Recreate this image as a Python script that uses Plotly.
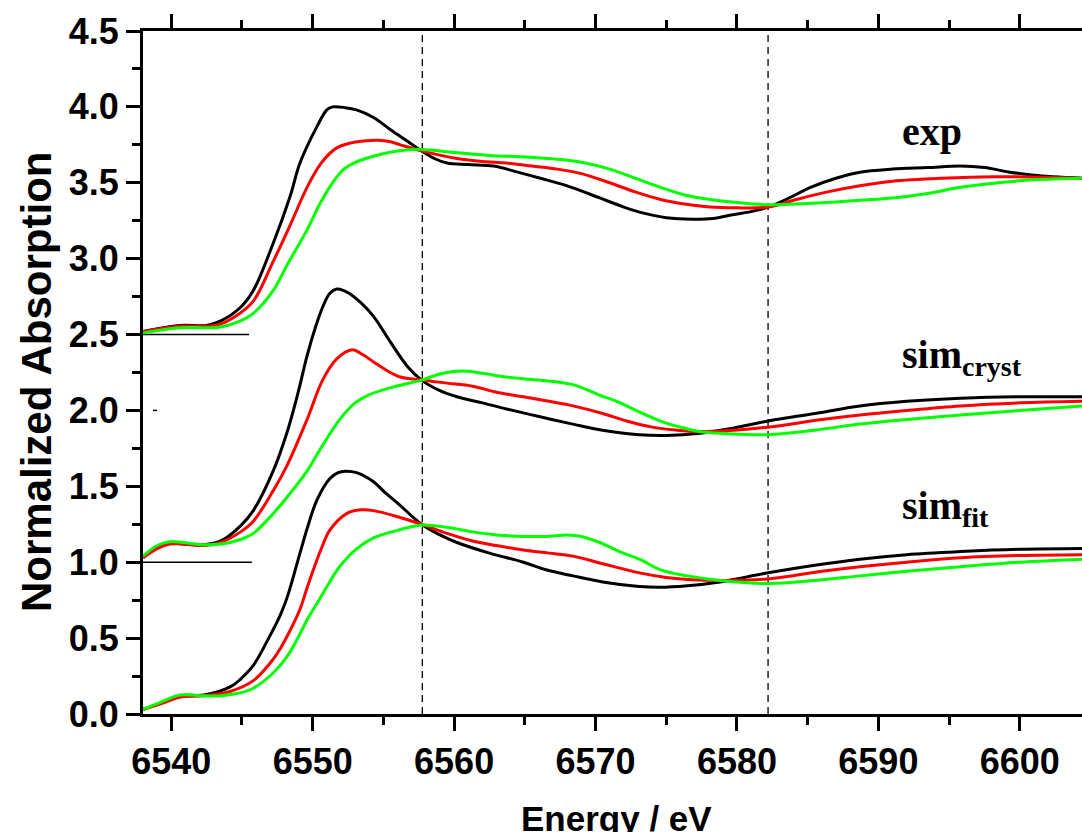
import plotly.graph_objects as go

# ---------------- data ----------------
exp_black_E = [6538.0, 6540.6, 6542.5, 6543.5, 6544.9, 6545.8, 6547.2, 6548.4, 6549.1, 6550.3, 6551.0, 6551.4, 6552.3, 6553.1, 6554.3, 6555.5, 6556.6, 6557.7, 6558.6, 6559.5, 6561.0, 6562.8, 6564.5, 6566.1, 6568.0, 6570.3, 6572.0, 6573.4, 6575.0, 6576.9, 6578.3, 6579.7, 6581.0, 6582.2, 6583.7, 6585.2, 6587.0, 6588.7, 6591.0, 6593.5, 6595.8, 6597.5, 6599.3, 6601.0, 6604.4]
exp_black_A = [2.52, 2.56, 2.56, 2.59, 2.68, 2.79, 3.10, 3.41, 3.63, 3.87, 3.98, 4.00, 3.995, 3.98, 3.93, 3.85, 3.78, 3.71, 3.66, 3.63, 3.62, 3.61, 3.57, 3.53, 3.48, 3.40, 3.34, 3.30, 3.27, 3.26, 3.265, 3.29, 3.31, 3.34, 3.40, 3.47, 3.53, 3.57, 3.59, 3.60, 3.61, 3.60, 3.57, 3.55, 3.53]

exp_red_E = [6538.0, 6540.6, 6542.5, 6543.5, 6544.7, 6545.8, 6547.2, 6548.4, 6549.6, 6550.6, 6551.7, 6552.6, 6553.6, 6554.6, 6555.5, 6556.2, 6557.7, 6560.2, 6562.0, 6563.7, 6565.5, 6567.3, 6569.0, 6571.0, 6572.8, 6574.6, 6576.3, 6578.1, 6580.0, 6582.2, 6584.2, 6586.4, 6588.7, 6591.0, 6594.5, 6598.1, 6604.4]
exp_red_A = [2.52, 2.555, 2.555, 2.57, 2.63, 2.72, 2.98, 3.22, 3.47, 3.63, 3.73, 3.76, 3.775, 3.78, 3.77, 3.75, 3.71, 3.66, 3.64, 3.63, 3.61, 3.59, 3.56, 3.50, 3.44, 3.39, 3.36, 3.34, 3.335, 3.34, 3.39, 3.44, 3.48, 3.51, 3.53, 3.54, 3.53]

exp_green_E = [6538.0, 6540.6, 6542.5, 6543.5, 6544.9, 6545.8, 6547.2, 6548.2, 6549.6, 6550.5, 6551.4, 6552.2, 6552.9, 6554.3, 6556.0, 6557.7, 6560.0, 6562.5, 6565.0, 6567.3, 6569.0, 6571.0, 6572.8, 6574.6, 6576.3, 6578.1, 6580.0, 6582.2, 6584.2, 6586.4, 6588.7, 6591.0, 6593.5, 6595.8, 6598.5, 6601.0, 6604.4]
exp_green_A = [2.51, 2.545, 2.545, 2.55, 2.59, 2.64, 2.79, 2.96, 3.19, 3.36, 3.50, 3.59, 3.63, 3.675, 3.71, 3.72, 3.70, 3.68, 3.67, 3.655, 3.635, 3.59, 3.53, 3.47, 3.42, 3.39, 3.37, 3.355, 3.36, 3.37, 3.385, 3.40, 3.43, 3.47, 3.50, 3.52, 3.53]

cryst_black_E = [6538.0, 6539.0, 6539.9, 6540.8, 6542.3, 6543.5, 6544.9, 6545.8, 6547.2, 6548.2, 6549.0, 6549.6, 6550.2, 6550.7, 6551.2, 6551.7, 6552.2, 6552.6, 6553.4, 6554.3, 6555.5, 6556.7, 6557.7, 6559.0, 6560.2, 6562.0, 6563.7, 6566.0, 6568.4, 6570.5, 6573.1, 6575.0, 6577.4, 6579.8, 6582.2, 6585.5, 6588.7, 6592.0, 6595.8, 6600.0, 6604.4]
cryst_black_A = [1.03, 1.10, 1.13, 1.12, 1.115, 1.14, 1.24, 1.34, 1.60, 1.86, 2.13, 2.36, 2.55, 2.68, 2.77, 2.80, 2.79, 2.77, 2.71, 2.62, 2.45, 2.29, 2.20, 2.13, 2.09, 2.05, 2.01, 1.96, 1.91, 1.87, 1.84, 1.835, 1.85, 1.885, 1.93, 1.98, 2.03, 2.06, 2.08, 2.09, 2.09]

cryst_red_E = [6538.0, 6539.0, 6539.9, 6540.8, 6542.3, 6543.5, 6544.9, 6545.8, 6547.2, 6548.2, 6549.6, 6550.7, 6551.7, 6552.8, 6553.5, 6554.3, 6555.3, 6556.2, 6557.7, 6559.5, 6561.3, 6563.0, 6564.9, 6566.7, 6568.4, 6570.5, 6572.2, 6574.0, 6575.8, 6577.4, 6579.8, 6582.2, 6586.0, 6588.7, 6592.0, 6595.8, 6600.0, 6604.4]
cryst_red_A = [1.03, 1.09, 1.12, 1.12, 1.11, 1.13, 1.20, 1.27, 1.47, 1.64, 1.94, 2.20, 2.34, 2.40, 2.37, 2.32, 2.26, 2.22, 2.20, 2.18, 2.16, 2.12, 2.09, 2.06, 2.03, 1.98, 1.93, 1.89, 1.87, 1.86, 1.87, 1.89, 1.94, 1.97, 2.00, 2.03, 2.05, 2.06]

cryst_green_E = [6538.0, 6539.0, 6539.9, 6540.8, 6542.3, 6543.5, 6544.9, 6545.8, 6547.2, 6548.2, 6549.6, 6550.5, 6551.9, 6553.0, 6553.9, 6555.5, 6557.7, 6559.0, 6560.6, 6562.0, 6563.7, 6566.0, 6568.4, 6570.3, 6571.5, 6573.1, 6574.6, 6576.0, 6577.4, 6579.8, 6582.2, 6585.5, 6588.7, 6592.0, 6595.8, 6600.0, 6604.4]
cryst_green_A = [1.04, 1.11, 1.135, 1.13, 1.115, 1.12, 1.15, 1.19, 1.32, 1.43, 1.60, 1.74, 1.94, 2.05, 2.10, 2.15, 2.20, 2.24, 2.26, 2.245, 2.22, 2.20, 2.17, 2.10, 2.06, 1.99, 1.93, 1.89, 1.86, 1.845, 1.84, 1.87, 1.91, 1.94, 1.97, 2.00, 2.03]

fit_black_E = [6538.0, 6539.2, 6540.6, 6542.3, 6544.2, 6544.9, 6545.8, 6547.0, 6547.7, 6548.2, 6549.1, 6549.7, 6550.3, 6551.2, 6551.8, 6552.3, 6553.1, 6554.3, 6555.1, 6556.0, 6557.7, 6559.0, 6560.2, 6562.5, 6564.9, 6566.5, 6568.4, 6570.5, 6573.1, 6574.5, 6576.5, 6578.8, 6582.2, 6585.5, 6588.7, 6592.0, 6595.8, 6600.0, 6604.4]
fit_black_A = [0.03, 0.07, 0.12, 0.125, 0.18, 0.23, 0.32, 0.52, 0.65, 0.77, 1.06, 1.25, 1.41, 1.55, 1.59, 1.60, 1.59, 1.53, 1.46, 1.39, 1.25, 1.18, 1.13, 1.06, 1.00, 0.95, 0.91, 0.87, 0.84, 0.835, 0.845, 0.87, 0.93, 0.98, 1.02, 1.05, 1.07, 1.085, 1.09]

fit_red_E = [6538.0, 6539.2, 6540.6, 6542.3, 6544.2, 6545.8, 6547.2, 6547.7, 6548.4, 6549.1, 6549.6, 6550.2, 6550.7, 6551.2, 6552.4, 6553.4, 6554.3, 6556.0, 6557.7, 6559.5, 6561.3, 6563.0, 6564.9, 6566.7, 6568.4, 6570.5, 6573.1, 6575.0, 6576.8, 6578.8, 6582.2, 6586.0, 6588.7, 6592.0, 6595.8, 6600.0, 6604.4]
fit_red_A = [0.03, 0.065, 0.11, 0.12, 0.15, 0.22, 0.36, 0.43, 0.55, 0.69, 0.83, 0.99, 1.11, 1.21, 1.32, 1.345, 1.34, 1.30, 1.25, 1.19, 1.14, 1.11, 1.08, 1.06, 1.04, 0.99, 0.93, 0.90, 0.885, 0.88, 0.89, 0.94, 0.97, 1.00, 1.03, 1.045, 1.05]

fit_green_E = [6538.0, 6539.2, 6540.6, 6542.3, 6543.5, 6544.9, 6545.8, 6547.2, 6548.2, 6549.0, 6549.6, 6550.5, 6551.2, 6551.9, 6553.0, 6554.3, 6556.0, 6557.7, 6559.5, 6561.3, 6563.0, 6564.9, 6566.5, 6568.0, 6569.0, 6570.3, 6571.7, 6573.1, 6574.6, 6576.5, 6578.8, 6582.2, 6585.5, 6588.7, 6592.0, 6595.8, 6600.0, 6604.4]
fit_green_A = [0.03, 0.075, 0.125, 0.12, 0.12, 0.14, 0.17, 0.27, 0.38, 0.51, 0.62, 0.76, 0.87, 0.97, 1.08, 1.16, 1.21, 1.245, 1.23, 1.20, 1.18, 1.17, 1.17, 1.18, 1.17, 1.13, 1.07, 1.02, 0.95, 0.91, 0.88, 0.86, 0.88, 0.91, 0.94, 0.97, 1.00, 1.02]

# reference markers
isosbestic_E = [6557.75, 6582.2]          # dashed vertical lines
baseline_levels = [2.5, 1.0]              # short horizontal baselines
baseline_ends = [6545.5, 6545.7]

group_labels = ["exp", "sim<sub>cryst</sub>", "sim<sub>fit</sub>"]
label_E = [6591.5, 6591.5, 6591.5]
label_A = [3.84, 2.35, 1.355]

y_tickvals = [0.0, 0.5, 1.0, 1.5, 2.0, 2.5, 3.0, 3.5, 4.0, 4.5]
x_tickvals = [6540, 6550, 6560, 6570, 6580, 6590, 6600]

x_range = [6538.0, 6604.4]
y_range = [0.0, 4.5]

# ---------------- figure ----------------
COL = {"black": "#000000", "red": "#ff0000", "green": "#00ff00"}
series = [
    (exp_black_E, exp_black_A, "black"), (exp_red_E, exp_red_A, "red"), (exp_green_E, exp_green_A, "green"),
    (cryst_black_E, cryst_black_A, "black"), (cryst_red_E, cryst_red_A, "red"), (cryst_green_E, cryst_green_A, "green"),
    (fit_black_E, fit_black_A, "black"), (fit_red_E, fit_red_A, "red"), (fit_green_E, fit_green_A, "green"),
]

fig = go.Figure()

# baselines
for lvl, end in zip(baseline_levels, baseline_ends):
    fig.add_trace(go.Scatter(x=[x_range[0], end], y=[lvl, lvl], mode="lines",
                             line=dict(color="black", width=1.5), showlegend=False, hoverinfo="skip"))
fig.add_trace(go.Scatter(x=[6538.7, 6539.0], y=[2.0, 2.0], mode="lines",
                         line=dict(color="black", width=1.5), showlegend=False, hoverinfo="skip"))

for E, A, c in series:
    fig.add_trace(go.Scatter(x=E, y=A, mode="lines",
                             line=dict(color=COL[c], width=3, shape="spline", smoothing=1.0),
                             showlegend=False))

for xe in isosbestic_E:
    fig.add_shape(type="line", xref="x", yref="y", x0=xe, x1=xe, y0=y_range[0], y1=y_range[1],
                  line=dict(color="black", width=1.3, dash="7px,5px"), layer="below")

for t, xe, ya in zip(group_labels, label_E, label_A):
    fig.add_annotation(x=xe, y=ya, xref="x", yref="y", text=t, showarrow=False,
                       xanchor="left", yanchor="middle",
                       font=dict(family="Liberation Serif, Times New Roman, serif", size=40,
                                 color="black", weight="bold"))

axis_font = dict(family="Liberation Sans, Arial, sans-serif", size=36, color="black", weight="bold")

fig.add_annotation(text="Normalized Absorption", xref="paper", yref="paper",
                   x=(36 - 143) / 939, y=(715 - 383) / 683, textangle=-90, showarrow=False,
                   xanchor="center", yanchor="middle",
                   font=dict(family="Liberation Sans, Arial, sans-serif", size=42, color="black", weight="bold"))
fig.add_annotation(text="Energy / eV", xref="paper", yref="paper",
                   x=(616 - 143) / 939, y=-(818 - 714) / 683, showarrow=False,
                   xanchor="center", yanchor="middle",
                   font=dict(family="Liberation Sans, Arial, sans-serif", size=35, color="black", weight="bold"))

fig.update_layout(
    width=1082, height=832,
    margin=dict(l=143, r=0, t=31, b=118),
    paper_bgcolor="white", plot_bgcolor="white",
    showlegend=False,
)
fig.update_xaxes(range=x_range, tickvals=x_tickvals, ticktext=[str(v) for v in x_tickvals],
                 showgrid=False, zeroline=False, showline=True, linecolor="black", linewidth=3,
                 mirror="ticks", ticks="outside", ticklen=14, tickwidth=3, tickcolor="black",
                 tickfont=axis_font,
                 minor=dict(dtick=5, tick0=6540, ticks="outside", ticklen=8, tickwidth=3, tickcolor="black"))
fig.update_yaxes(range=y_range, tickvals=y_tickvals, ticktext=[f"{v:.1f}" for v in y_tickvals],
                 showgrid=False, zeroline=False, showline=True, linecolor="black", linewidth=3,
                 ticks="outside", ticklen=14, tickwidth=3, tickcolor="black",
                 tickfont=axis_font,
                 minor=dict(dtick=0.25, tick0=0, ticks="outside", ticklen=8, tickwidth=3, tickcolor="black"))

fig.write_html("out.html")
